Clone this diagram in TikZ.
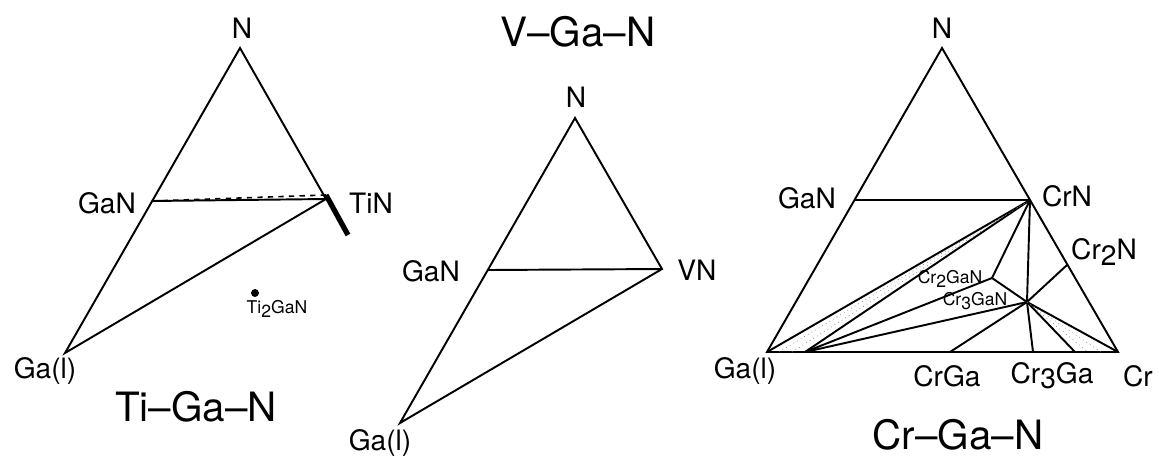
\documentclass[tikz,border=0pt]{standalone}
\usepackage{fontspec}
\setmainfont{TeX Gyre Heros}
\usepackage{tikz}
\usetikzlibrary{calc,positioning}
\newcommand{\lowr}[1]{\raisebox{-0.35ex}{#1}}

\begin{document}
\begin{tikzpicture}[x=0.02cm,y=-0.02cm,
  lbl/.style={inner sep=0pt,font=\fontsize{16}{18}\selectfont},
  sml/.style={inner sep=0pt,font=\fontsize{10}{12}\selectfont},
  ttl/.style={inner sep=0pt,font=\fontsize{23}{26}\selectfont},
  edge/.style={line width=1.1pt,line join=miter},
  thk/.style={line width=3pt},
  hatch/.style={line width=0.4pt,gray,dotted}
]
  \useasboundingbox (0,0) rectangle (1159,464);

  % Ti-Ga-N
  \coordinate (tN)   at (240,48);
  \coordinate (tGa)  at (65,353);
  \coordinate (tGaN) at (152,201);
  \coordinate (tTiN) at (326,199);
  \coordinate (tTiNd) at (326,195);
  \coordinate (tTiNe) at (348,235);
  \node[circle,fill,inner sep=1.6pt] (tdot) at (255,293) {};
  \node[lbl] (tNl)   at (242,28)  {N};
  \node[lbl] (tGaNl) at (107,203) {GaN};
  \node[lbl] (tTiNl) at (371,203) {TiN};
  \node[lbl] (tGal)  at (45,371)  {Ga(l)};
  \node[sml] (tTil)  at (277,309) {Ti\lowr{2}GaN};
  \node[ttl] (tttl)  at (196,407) {Ti--Ga--N};
  \draw[edge] (tGa)--(tN)--(tTiN)--cycle;
  \draw[edge] (tGaN)--(tTiN);
  \draw[edge,dashed,line width=0.9pt] (tGaN)--(tTiNd);
  \draw[thk] (tTiNd)--(tTiNe);

  % V-Ga-N
  \coordinate (vN)   at (575,118);
  \coordinate (vGa)  at (400,423);
  \coordinate (vGaN) at (488,270);
  \coordinate (vVN)  at (662,269);
  \node[lbl] (vNl)   at (576,97)  {N};
  \node[lbl] (vGaNl) at (431,271) {GaN};
  \node[lbl] (vVNl)  at (697,270) {VN};
  \node[lbl] (vGal)  at (380,443) {Ga(l)};
  \node[ttl] (vttl)  at (578,32)  {V--Ga--N};
  \draw[edge] (vGa)--(vN)--(vVN)--cycle;
  \draw[edge] (vGaN)--(vVN);

  % Cr-Ga-N
  \coordinate (cN)    at (942,48);
  \coordinate (cGa)   at (767,352);
  \coordinate (cCr)   at (1118,352);
  \coordinate (cGaN)  at (855,200);
  \coordinate (cCrN)  at (1030,200);
  \coordinate (cCr2N) at (1067,265);
  \coordinate (cGa2)  at (805,352);
  \coordinate (cCrGa) at (950,352);
  \coordinate (cCr3Ga) at (1033,352);
  \coordinate (cB)    at (1075,352);
  \coordinate (c2GaN) at (992,278);
  \coordinate (c3GaN) at (1027,302);
  \node[lbl] (cNl)    at (942,28)  {N};
  \node[lbl] (cGaNl)  at (807,198) {GaN};
  \node[lbl] (cCrNl)  at (1067,196) {CrN};
  \node[lbl] (cCr2Nl) at (1104,252) {Cr\lowr{2}N};
  \node[lbl] (cGal)   at (745,371) {Ga(l)};
  \node[lbl] (cCrGal) at (947,376) {CrGa};
  \node[lbl] (cCr3Gal) at (1052,376) {Cr\lowr{3}Ga};
  \node[lbl] (cCrl)   at (1138,376) {Cr};
  \node[sml] (c2l)    at (950,279) {Cr\lowr{2}GaN};
  \node[sml] (c3l)    at (975,301) {Cr\lowr{3}GaN};
  \node[ttl] (cttl)   at (958,435) {Cr--Ga--N};
  \draw[edge] (cGa)--(cN)--(cCr)--cycle;
  \draw[edge] (cGaN)--(cCrN);
  \draw[edge] (cGa)--(cCrN);
  \draw[edge] (cGa2)--(cCrN);
  \foreach \x in {779,792}
    \draw[hatch] (\x,352)--(cCrN);
  \draw[edge] (cGa2)--(c2GaN);
  \draw[edge] (cGa2)--(c3GaN);
  \draw[edge] (cCrN)--(c2GaN)--(c3GaN);
  \draw[edge] (cCrN)--(c3GaN)--(cCr3Ga);
  \draw[edge] (c3GaN)--(cCr2N);
  \draw[edge] (c3GaN)--(cCrGa);
  \draw[edge] (c3GaN)--(cB);
  \draw[edge] (c3GaN)--(cCr);
  \foreach \x in {1088,1101}
    \draw[hatch] (c3GaN)--(\x,352);
\end{tikzpicture}
\end{document}
